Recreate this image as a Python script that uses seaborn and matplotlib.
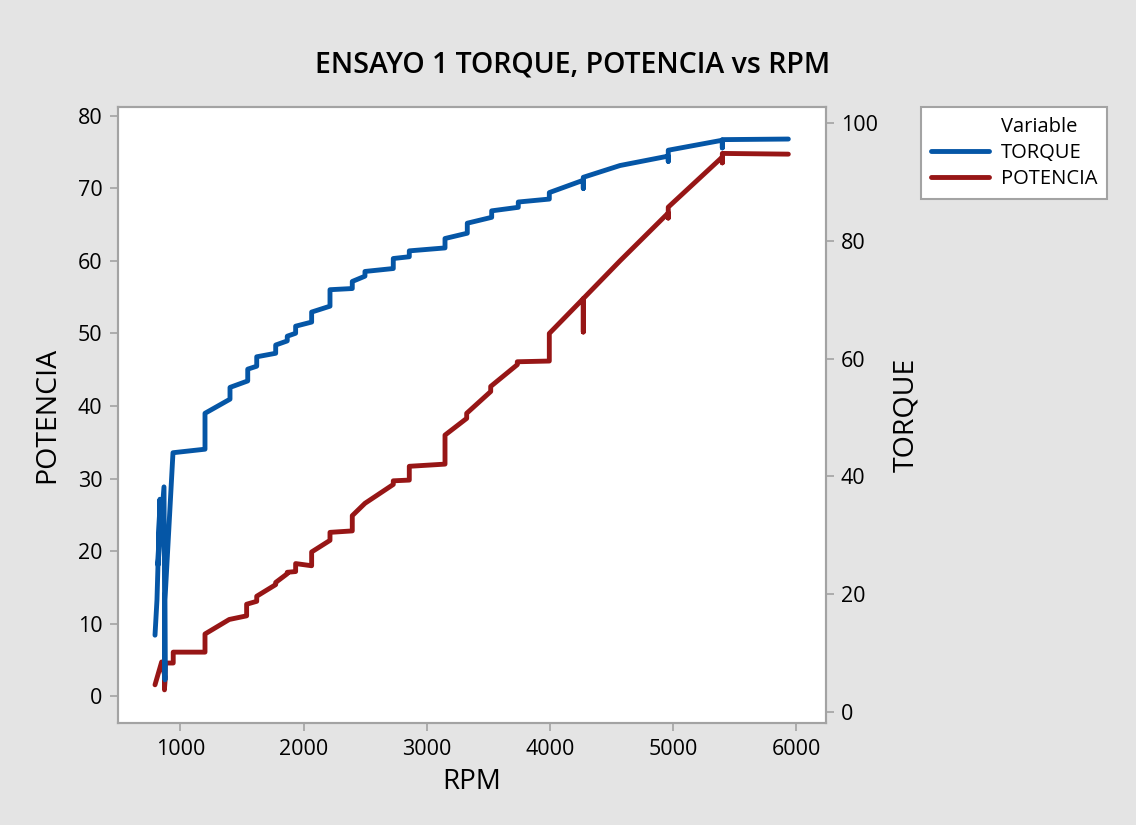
import matplotlib
matplotlib.use("Agg")
import matplotlib.pyplot as plt
from matplotlib.lines import Line2D
import pandas as pd
import seaborn as sns

# Engine test 1: torque and power readings in acquisition order
rpm_torque = [794, 810, 834, 818, 867, 875, 875, 940,
              1200, 1200, 1403, 1403, 1547, 1547, 1620, 1620, 1774, 1774,
              1868, 1868, 1936, 1936, 2066, 2066, 2215, 2215, 2396, 2396,
              2499, 2499, 2729, 2729, 2859, 2859, 3149, 3149, 3330, 3330,
              3528, 3528, 3744, 3744, 3996, 3996,
              4272, 4272, 4272, 4570, 4962, 4962, 4962, 5401, 5401, 5401, 5937]
torque = [13.0, 19.0, 36.1, 24.9, 38.2, 5.4, 19.0, 44.0,
          44.6, 50.7, 53.1, 55.1, 56.2, 58.2, 58.7, 60.3, 60.9, 62.3,
          63.0, 63.8, 64.3, 65.5, 66.2, 67.9, 68.9, 71.7, 71.9, 73.1,
          74.0, 74.8, 75.3, 77.0, 77.3, 78.3, 78.8, 80.4, 81.3, 83.0,
          84.0, 85.1, 85.7, 86.6, 87.1, 88.2,
          90.3, 88.9, 90.8, 92.8, 94.4, 93.5, 95.4, 97.1, 95.8, 97.2, 97.3]

rpm_potencia = [794, 848, 875, 871, 879, 942, 942,
                1200, 1200, 1397, 1538, 1538, 1620, 1620, 1774, 1774,
                1868, 1868, 1936, 1936, 2066, 2066, 2215, 2215, 2396, 2396,
                2499, 2729, 2729, 2859, 2859, 3149, 3149, 3325, 3325,
                3520, 3520, 3736, 3736, 3996, 3996,
                4272, 4272, 4272, 4570, 4962, 4962, 4962, 5401, 5401, 5401, 5937]
potencia = [1.6, 4.75, 2.7, 0.9, 4.6, 4.6, 6.1,
            6.1, 8.6, 10.6, 11.1, 12.7, 13.1, 13.8, 15.4, 15.7,
            16.9, 17.1, 17.2, 18.3, 18.0, 19.9, 21.5, 22.6, 22.8, 24.9,
            26.6, 29.2, 29.7, 29.8, 31.7, 32.0, 36.0, 38.3, 39.0,
            42.0, 42.7, 45.7, 46.1, 46.2, 50.0,
            54.8, 50.2, 54.8, 60.0, 66.6, 65.9, 67.4, 74.3, 73.5, 74.8, 74.7]

x_ticks = [1000, 2000, 3000, 4000, 5000, 6000]
pot_ticks = [0, 10, 20, 30, 40, 50, 60, 70, 80]
torque_ticks = [0, 20, 40, 60, 80, 100]

title = "ENSAYO 1 TORQUE, POTENCIA vs RPM"
series_names = ["TORQUE", "POTENCIA"]

BLUE = "#0556A6"
RED = "#971616"
BG = "#E4E4E4"
FRAME = "#A3A3A3"

sns.set_theme(style="white")
plt.rcParams["font.family"] = ["Open Sans", "DejaVu Sans"]
plt.rcParams["text.color"] = "black"
plt.rcParams["axes.labelcolor"] = "black"

fig = plt.figure(figsize=(11.36, 8.25), dpi=100, facecolor=BG)
ax = fig.add_axes([0.1036, 0.1233, 0.6232, 0.7474])
ax.set_facecolor("white")
ax2 = ax.twinx()

df_t = pd.DataFrame({"RPM": rpm_torque, "TORQUE": torque})
df_p = pd.DataFrame({"RPM": rpm_potencia, "POTENCIA": potencia})

sns.lineplot(data=df_p, x="RPM", y="POTENCIA", ax=ax, sort=False,
             estimator=None, color=RED, linewidth=3.5, legend=False)
sns.lineplot(data=df_t, x="RPM", y="TORQUE", ax=ax2, sort=False,
             estimator=None, color=BLUE, linewidth=3.5, legend=False)

ax.set_xlim(491, 6240)
ax.set_ylim(-3.7, 81.24)
ax2.set_ylim(-1.97, 102.8)

ax.set_xticks(x_ticks)
ax.set_yticks(pot_ticks)
ax2.set_yticks(torque_ticks)

for a in (ax, ax2):
    for s in a.spines.values():
        s.set_color(FRAME)
        s.set_linewidth(1.5)
    a.tick_params(colors=FRAME, labelcolor="black", labelsize=15.5,
                  length=6, width=1.2, direction="out", pad=5)
    a.grid(False)
ax.tick_params(axis="both", which="both", left=True, bottom=True)
ax2.tick_params(axis="y", right=True)

ax.set_xlabel("RPM", fontsize=20, labelpad=6, color="black")
ax.set_ylabel("POTENCIA", fontsize=20.5, labelpad=12, color="black")
ax2.set_ylabel("TORQUE", fontsize=20.5, labelpad=10, color="black")

fig.text(0.504, 0.921, title, ha="center", va="center", fontsize=20.5,
         color="black", fontweight="semibold")

handles = [Line2D([], [], color="none"),
           Line2D([], [], color=BLUE, linewidth=3.5),
           Line2D([], [], color=RED, linewidth=3.5)]
labels = ["Variable"] + series_names
leg = fig.legend(handles, labels, loc="upper left",
                 bbox_to_anchor=(921 / 1136, 1 - 107 / 825),
                 frameon=True, fancybox=False, fontsize=14.5, framealpha=1,
                 handlelength=2.9, handletextpad=0.55, borderpad=0.5,
                 labelspacing=0.3, borderaxespad=0)
for t in leg.get_texts():
    t.set_color("black")
leg.get_frame().set_edgecolor(FRAME)
leg.get_frame().set_linewidth(1.5)
leg.get_frame().set_facecolor("white")

fig.savefig("out.png", dpi=100, facecolor=BG)
